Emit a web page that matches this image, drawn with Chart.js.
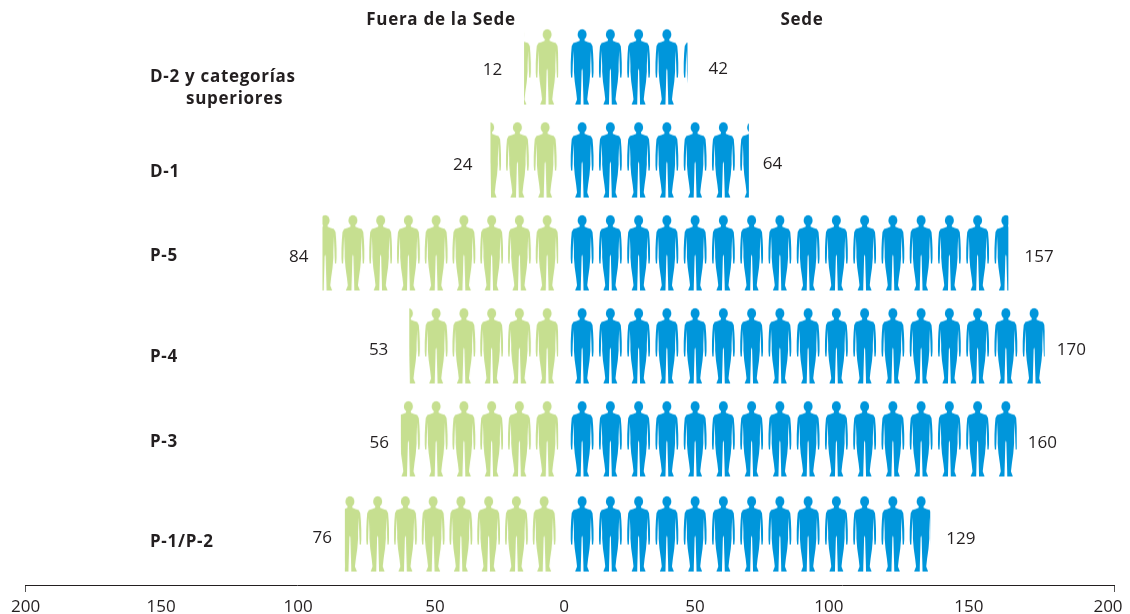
<!DOCTYPE html>
<html>
<head>
<meta charset="utf-8">
<style>html,body{margin:0;padding:0;background:#fff}canvas{display:block}</style>
<script src="https://cdn.jsdelivr.net/npm/chart.js@4/dist/chart.umd.min.js"></script>
</head>
<body>
<canvas id="c" width="1130" height="614"></canvas>
<script>
// ---- data ----
const categories = ["D-2 y categorías|superiores", "D-1", "P-5", "P-4", "P-3", "P-1/P-2"];
const fueraDeLaSede = [12, 24, 84, 53, 56, 76];
const sede = [42, 64, 157, 170, 160, 129];
const tickLabels = ["200", "150", "100", "50", "0", "50", "100", "150", "200"];
const seriesNames = ["Fuera de la Sede", "Sede"];

// ---- layout ----
const tickPositions = [-199.8, -150, -99.7, -49.4, -2, 46.1, 95.3, 146.7, 197.8, 200];
const rowPositions = [0, 1, 2, 3, 4, 5.022];
const catLabelDy = [2, 12, 3, 11, 3, 8];
const leftLabelGap = [32, 28, 24, 31, 22, 23];
const rightLabelGap = [31, 24, 31, 27, 26, 31];
const leftLabelDy = [3, 5, 4, 4, 4, 4];
const rightLabelDy = [2, 4, 4, 4, 4, 5];
const leftIconShift = [3, 1, 3, 3, 3, 0];
const AREA = {left: 25, right: 1114, top: 20, bottom: 585};
const LEFT = {origin: 558, perUnit: 2.8, period: 27.75, color: "#c6df90"};
const RIGHT = {origin: 570, perUnit: 2.79, period: 28.25, color: "#0096db"};
const FONT = '"Open Sans", sans-serif';

function person(g, cx, top, color) {
  g.fillStyle = color;
  g.beginPath();
  g.ellipse(cx, top + 5, 4.5, 5.4, 0, 0, Math.PI * 2);
  g.fill();
  const half = [[0,9],[2.3,9],[2.5,11.3],[5.5,12.4],[8.8,13.6],[10.4,16.5],[11,24],[11.4,33],[11.4,43],[11,48],[9.8,48],
    [9.5,41],[9.2,32],[8.8,21],[8.5,28],[8.2,36],[8.2,42],[7.4,52],[6,62],[5.1,70],[7,75],[1.4,75],[1.3,69],[0.9,56],[0.5,41],[0,39]];
  g.beginPath();
  half.forEach((p, i) => i ? g.lineTo(cx + p[0], top + p[1]) : g.moveTo(cx + p[0], top + p[1]));
  half.slice().reverse().forEach(p => g.lineTo(cx - p[0], top + p[1]));
  g.closePath();
  g.fill();
}
function makePattern(side, anchorX, topY) {
  const w = Math.round(side.period * 4), h = 80;
  const tile = document.createElement("canvas");
  tile.width = w; tile.height = h;
  const g = tile.getContext("2d");
  for (let i = 0; i < 4; i++) person(g, (i + 0.5) * side.period, 1, side.color);
  const pat = g.createPattern(tile, "repeat");
  pat.setTransform(new DOMMatrix().translate(anchorX, topY));
  return pat;
}
function fill(side) {
  return ctx => {
    const chart = ctx.chart;
    if (ctx.dataIndex === undefined || !chart.scales.y) return side.color;
    const i = ctx.dataIndex;
    const top = chart.scales.y.getPixelForValue(rowPositions[i]) - 39;
    const anchor = side === RIGHT ? side.origin - 2 : side.origin - side.period * 4 + leftIconShift[i];
    return makePattern(side, anchor, top);
  };
}
function rowsOf(values) { return values.map((v, i) => ({x: v, y: rowPositions[i]})); }

const textPlugin = {
  id: "texts",
  afterDatasetsDraw(chart) {
    const g = chart.ctx, y = chart.scales.y;
    g.save();
    g.textBaseline = "middle";
    g.fillStyle = "#231f20";
    // headers
    g.font = "bold 17px " + FONT;
    g.letterSpacing = "0.7px";
    g.textAlign = "center";
    g.fillText(seriesNames[0], 441, 20);
    g.fillText(seriesNames[1], 802, 20);
    // categories
    g.textAlign = "left";
    categories.forEach((c, i) => {
      const py = y.getPixelForValue(rowPositions[i]) + catLabelDy[i];
      const parts = c.split("|");
      if (parts.length > 1) {
        g.fillText(parts[0], 150, py + 8);
        g.fillText(parts[1], 186, py + 30);
      } else g.fillText(c, 150, py);
    });
    // values
    g.letterSpacing = "0px";
    g.font = "17px " + FONT;
    g.textAlign = "center";
    const lm = chart.getDatasetMeta(0).data, rm = chart.getDatasetMeta(1).data;
    fueraDeLaSede.forEach((v, i) => g.fillText(String(v), lm[i].x - leftLabelGap[i], lm[i].y + leftLabelDy[i]));
    sede.forEach((v, i) => g.fillText(String(v), rm[i].x + rightLabelGap[i], rm[i].y + rightLabelDy[i]));
    g.restore();
  }
};

new Chart(document.getElementById("c"), {
  type: "bar",
  plugins: [textPlugin],
  data: {
    datasets: [
      {label: seriesNames[0], data: rowsOf(fueraDeLaSede), xAxisID: "xLeft", yAxisID: "y", backgroundColor: fill(LEFT), barThickness: 77, borderWidth: 0, grouped: false},
      {label: seriesNames[1], data: rowsOf(sede), xAxisID: "xRight", yAxisID: "y", backgroundColor: fill(RIGHT), barThickness: 77, borderWidth: 0, grouped: false}
    ]
  },
  options: {
    indexAxis: "y",
    responsive: false,
    animation: false,
    layout: {padding: {left: AREA.left, right: 1130 - AREA.right, top: AREA.top, bottom: 0}},
    plugins: {legend: {display: false}, tooltip: {enabled: false}},
    scales: {
      y: {type: "linear", display: false, reverse: true, offset: false, min: -0.511, max: 5.565},
      xLeft: {type: "linear", axis: "x", display: false, position: "bottom", reverse: true,
        min: (LEFT.origin - AREA.right) / LEFT.perUnit, max: (LEFT.origin - AREA.left) / LEFT.perUnit},
      xRight: {type: "linear", axis: "x", display: false, position: "bottom",
        min: (AREA.left - RIGHT.origin) / RIGHT.perUnit, max: (AREA.right - RIGHT.origin) / RIGHT.perUnit},
      x: {
        type: "linear", position: "bottom", min: -200, max: 200,
        afterBuildTicks: s => { s.ticks = tickPositions.map(v => ({value: v})); },
        afterFit: s => { s.height = 614 - AREA.bottom; },
        border: {color: "#231f20", width: 1},
        grid: {drawOnChartArea: false, drawTicks: true, tickLength: 7,
          tickColor: c => (c.index === 0 || c.index === tickPositions.length - 1) ? "#555" : "rgba(0,0,0,0)"},
        ticks: {autoSkip: false, maxRotation: 0, padding: 5, color: "#231f20",
          font: {family: '"Open Sans", sans-serif', size: 17},
          callback: (v, i) => tickLabels[i] || ""}
      }
    }
  }
});
</script>
</body>
</html>
